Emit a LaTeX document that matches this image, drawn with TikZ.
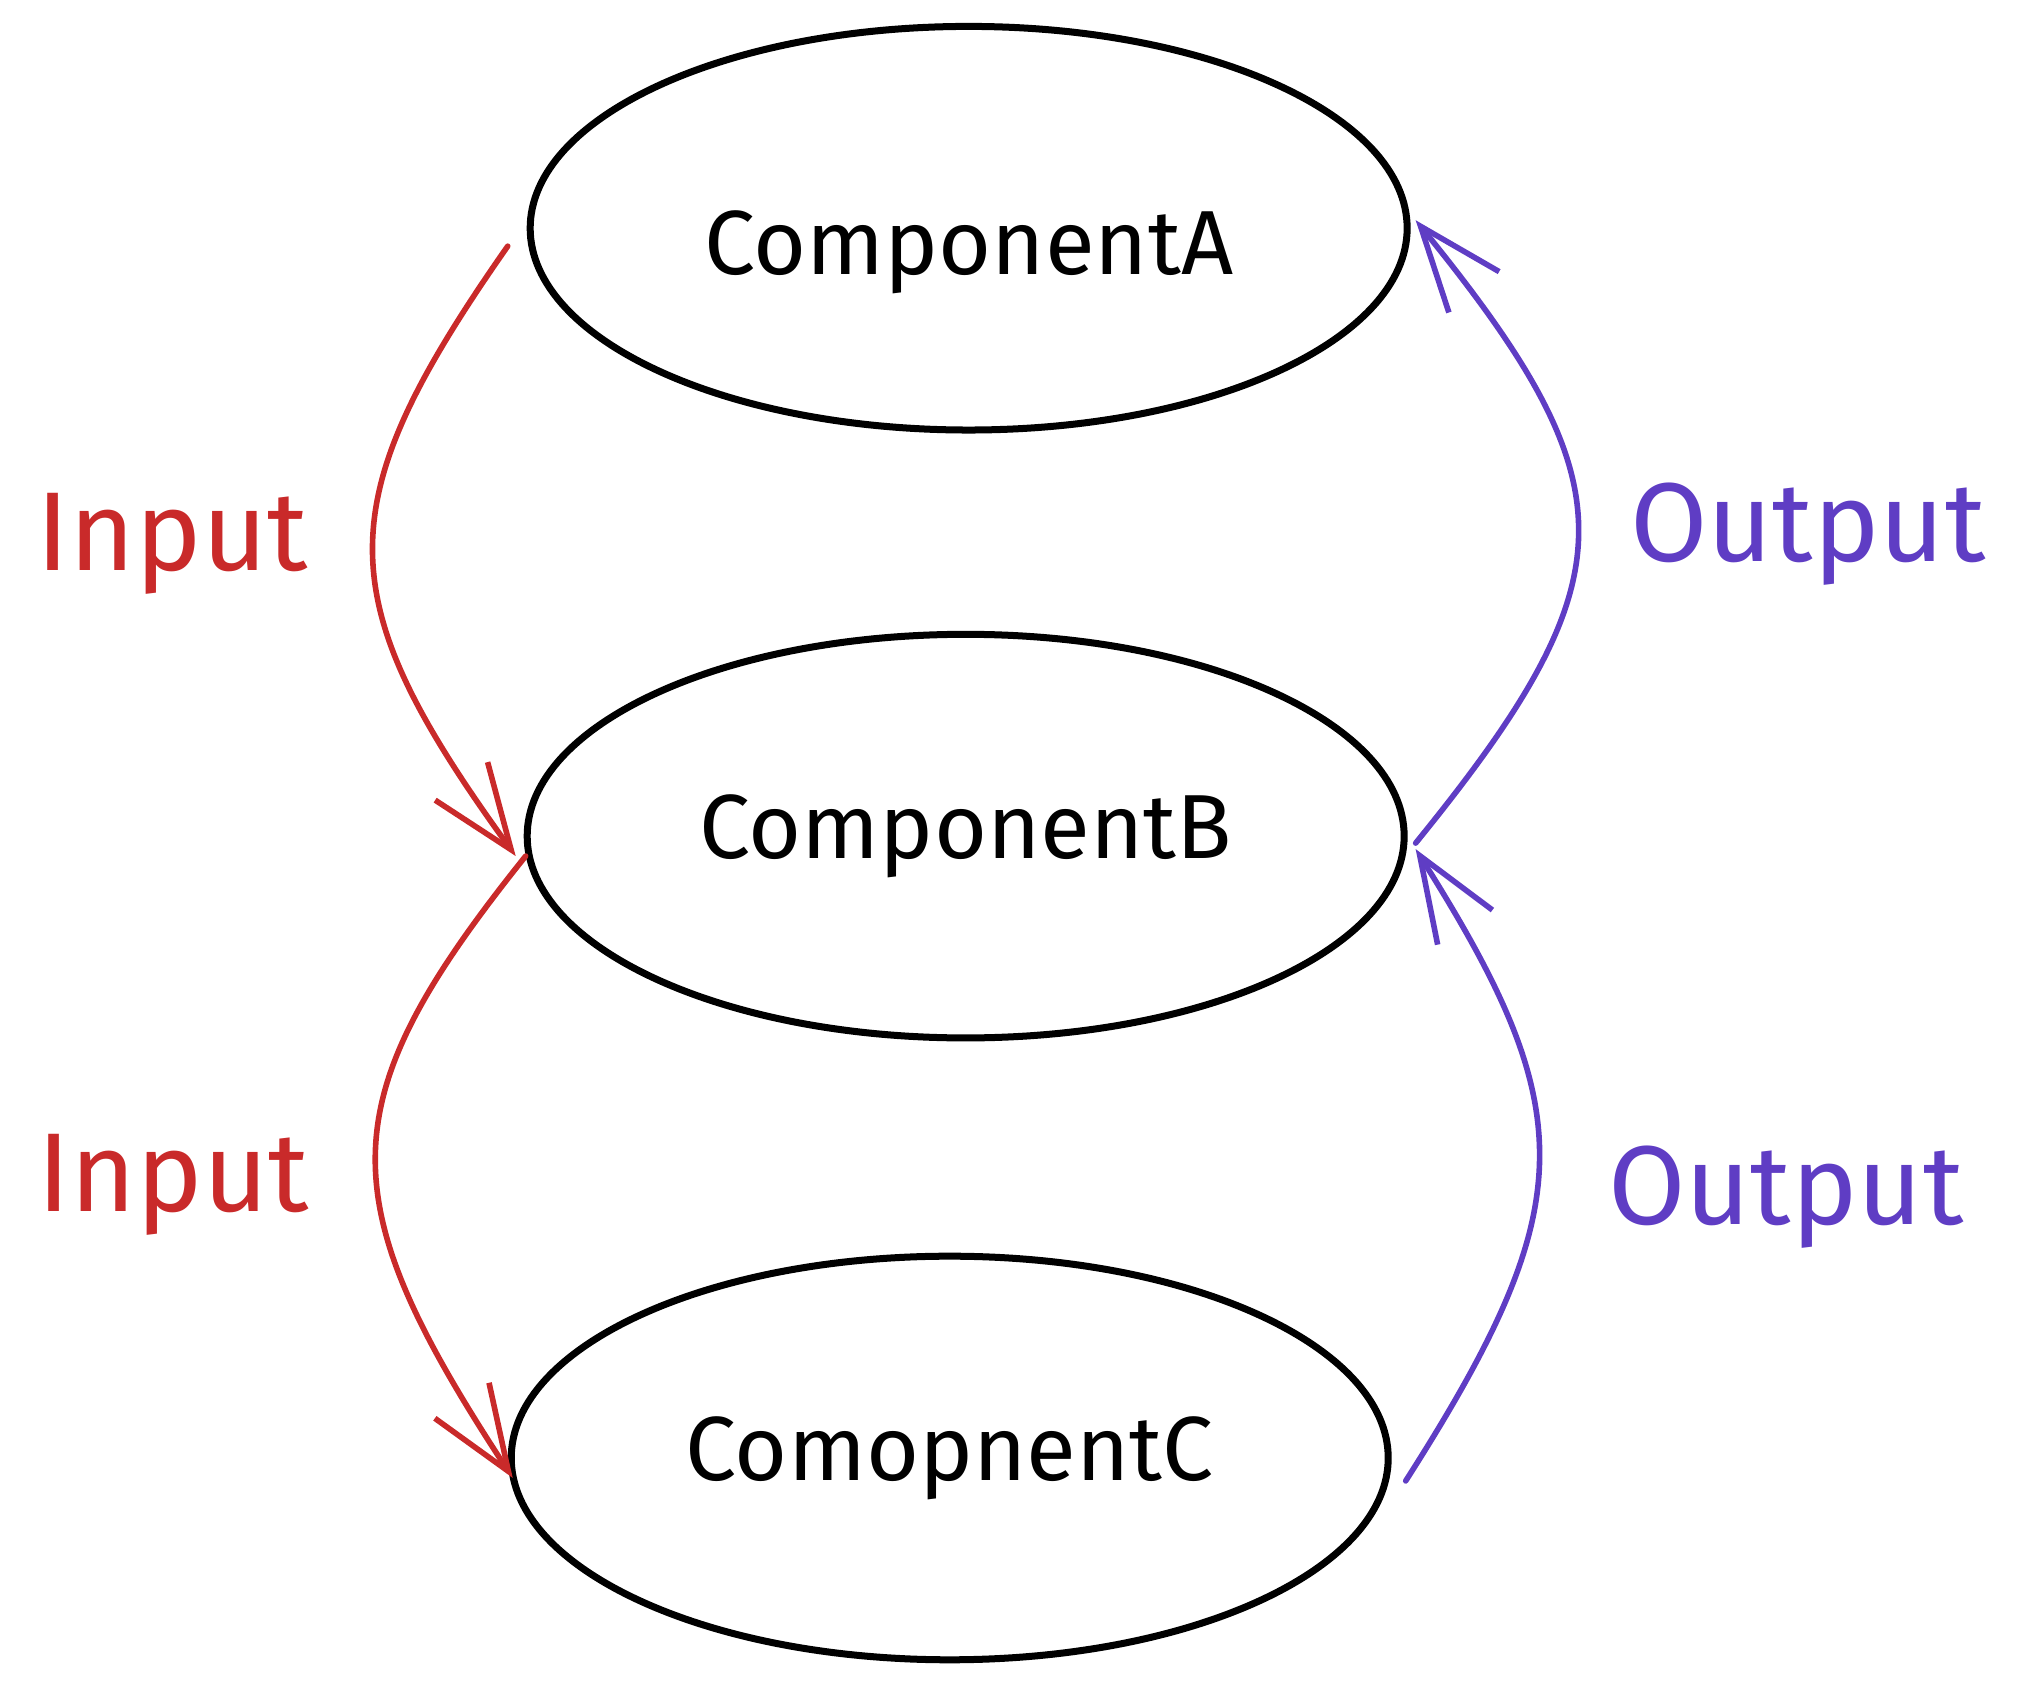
\documentclass[tikz,border=0pt]{standalone}
\usepackage{fontspec}
\setmainfont{Fira Sans}
\usepackage{tikz}
\usetikzlibrary{arrows.meta,shapes.geometric}
\definecolor{ink}{HTML}{000000}
\definecolor{inred}{HTML}{C92A2A}
\definecolor{outviolet}{HTML}{5F3DC4}
\tikzset{
  comp/.style={ellipse, draw=ink, line width=2pt, minimum width=8.8cm, minimum height=4.05cm,
    inner sep=0pt, font=\fontsize{26}{30}\selectfont},
  flowlabel/.style={anchor=base, font=\fontsize{32}{36}\selectfont},
  inarr/.style={-{Straight Barb[length=0.85cm, width=0.65cm]}, draw=inred, line width=1.6pt, line cap=round},
  outarr/.style={-{Straight Barb[length=0.85cm, width=0.65cm]}, draw=outviolet, line width=1.6pt, line cap=round}
}

\begin{document}
\begin{tikzpicture}
  \useasboundingbox (0,0) rectangle (20.38,-17.0);

  \node[comp, text height=1.12cm] (compA) at (9.72,-2.29) {ComponentA};
  \node[comp] (compB) at (9.69,-8.39) {ComponentB};
  \node[comp] (compC) at (9.53,-14.63) {ComopnentC};

  \node[flowlabel, text=inred] (in1) at (1.73,-5.72) {Input};
  \node[flowlabel, text=inred] (in2) at (1.74,-12.16) {Input};
  \node[flowlabel, text=outviolet] (out1) at (18.14,-5.63) {Output};
  \node[flowlabel, text=outviolet] (out2) at (17.92,-12.29) {Output};

  % left side: inputs going down
  \draw[inarr] ([shift={(-0.19,-0.18)}]compA.west) .. controls +(-1.82,-2.6) and +(-1.885,2.6) .. ([shift={(-0.08,-0.2)}]compB.west);
  \draw[inarr] ([shift={(0.02,-0.2)}]compB.west) .. controls +(-1.98,-2.47) and +(-1.85,2.82) .. ([shift={(0.05,-0.2)}]compC.west);

  % right side: outputs going up
  \draw[outarr] ([shift={(0.08,-0.07)}]compB.east) .. controls +(2.17,2.67) and +(2.17,-2.67) .. ([shift={(0.05,0.08)}]compA.east);
  \draw[outarr] ([shift={(0.14,-0.23)}]compC.east) .. controls +(1.77,2.77) and +(1.66,-2.63) .. ([shift={(0.08,-0.13)}]compB.east);
\end{tikzpicture}
\end{document}
